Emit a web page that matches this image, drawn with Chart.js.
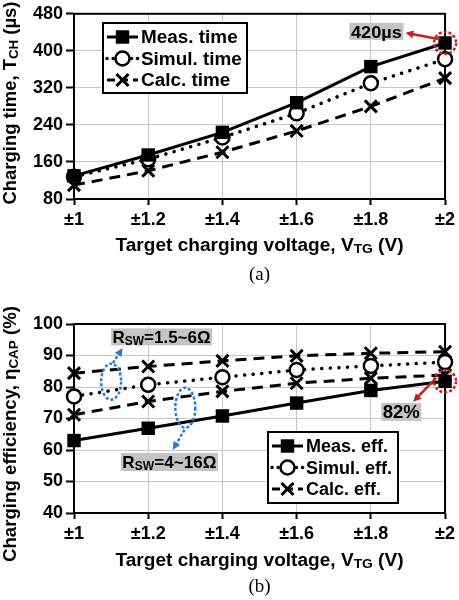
<!DOCTYPE html>
<html>
<head>
<meta charset="utf-8">
<script src="https://cdn.jsdelivr.net/npm/chart.js@4.4.1/dist/chart.umd.min.js"></script>
<style>
  body { margin: 0; background: #fff; }
  .wrap { position: absolute; left: 0; width: 459px; height: 300px; }
</style>
</head>
<body>
<div class="wrap" style="top:0"><canvas id="timeChart" width="459" height="300"></canvas></div>
<div class="wrap" style="top:300px"><canvas id="effChart" width="459" height="300"></canvas></div>
<script>
// x axis: target charging voltage
const voltages = [1, 1.2, 1.4, 1.6, 1.8, 2];
const voltLabels = ["±1", "±1.2", "±1.4", "±1.6", "±1.8", "±2"];

// (a) charging time in us
const timeTicks = [80, 160, 240, 320, 400, 480];
const measTime = [130, 175, 224, 288, 366, 417];
const simulTime = [128, 166, 213, 265, 330, 382];
const calcTime = [110, 141, 181, 227, 280, 341];

// (b) charging efficiency in %
const effTicks = [40, 50, 60, 70, 80, 90, 100];
const measEff = [63, 66.9, 70.8, 74.9, 78.9, 81.8];
const simulEff = [77, 80.7, 83.1, 85.4, 86.7, 87.9];
const calcEffLowR = [84.4, 86.5, 88.3, 89.9, 90.7, 91.2];   // Rsw = 1.5~6 ohm
const calcEffHighR = [71.2, 75.4, 78.6, 81.2, 82.8, 83.8];  // Rsw = 4~16 ohm

const FONT = '"Liberation Sans", Arial, sans-serif';
const RED = "#c8201e";
const BLUE = "#2b7bc4";
const BOXGREY = "#c4c4c4";

const toXY = (ys) => ys.map((y, i) => ({ x: voltages[i], y: y }));

// styles of the three kinds of series
const measStyle = {
  borderColor: "#000", borderWidth: 3,
  pointStyle: "rect", pointRadius: 9.5, pointBackgroundColor: "#000", pointBorderWidth: 0
};
const simulStyle = {
  borderColor: "#000", borderWidth: 3.5, borderDash: [0.1, 8.5], borderCapStyle: "round",
  pointStyle: "circle", pointRadius: 7, pointBackgroundColor: "#fff",
  pointBorderColor: "#000", pointBorderWidth: 2.5
};
const calcStyle = {
  borderColor: "#000", borderWidth: 3, borderDash: [11, 7],
  pointStyle: "crossRot", pointRadius: 8.5, pointBorderColor: "#000", pointBorderWidth: 3
};

const makeSet = (label, ys, style) =>
  Object.assign({ label: label, data: toXY(ys), tension: 0, clip: false }, style);

// bold text with subscripts, centered at x, vertically centered at y
function drawRich(ctx, parts, x, y, size, opt) {
  opt = opt || {};
  const subSize = Math.round(size * 0.7);
  ctx.save();
  let w = 0;
  parts.forEach((p) => {
    ctx.font = "bold " + (p[1] ? subSize : size) + "px " + FONT;
    w += ctx.measureText(p[0]).width;
  });
  const sx = opt.width ? opt.width / w : (opt.stretch || 1);
  ctx.translate(x, y);
  if (opt.rotate) ctx.rotate(opt.rotate);
  ctx.scale(sx, 1);
  ctx.fillStyle = "#000";
  ctx.textBaseline = "alphabetic";
  let cx = -w / 2;
  parts.forEach((p) => {
    ctx.font = "bold " + (p[1] ? subSize : size) + "px " + FONT;
    ctx.fillText(p[0], cx, size * 0.36 + (p[1] ? 1.5 : 0));
    cx += ctx.measureText(p[0]).width;
  });
  ctx.restore();
}

function greyLabel(ctx, parts, cx, cy, w, h, size) {
  ctx.fillStyle = BOXGREY;
  ctx.fillRect(cx - w / 2, cy - h / 2, w, h);
  drawRich(ctx, parts, cx, cy, size, { width: w - 3 });
}

function arrow(ctx, x1, y1, x2, y2, color, dash) {
  const ang = Math.atan2(y2 - y1, x2 - x1);
  ctx.save();
  ctx.strokeStyle = color;
  ctx.fillStyle = color;
  ctx.lineWidth = 2.5;
  ctx.setLineDash(dash || []);
  ctx.beginPath();
  ctx.moveTo(x1, y1);
  ctx.lineTo(x2 - 5 * Math.cos(ang), y2 - 5 * Math.sin(ang));
  ctx.stroke();
  ctx.setLineDash([]);
  ctx.beginPath();
  ctx.moveTo(x2, y2);
  ctx.lineTo(x2 - 9 * Math.cos(ang - 0.45), y2 - 9 * Math.sin(ang - 0.45));
  ctx.lineTo(x2 - 9 * Math.cos(ang + 0.45), y2 - 9 * Math.sin(ang + 0.45));
  ctx.closePath();
  ctx.fill();
  ctx.restore();
}

function dashedEllipse(ctx, x, y, rx, ry, color, dash) {
  ctx.save();
  ctx.strokeStyle = color;
  ctx.lineWidth = 2.5;
  ctx.setLineDash(dash);
  ctx.beginPath();
  ctx.ellipse(x, y, rx, ry, 0, 0, Math.PI * 2);
  ctx.stroke();
  ctx.restore();
}

// plugin: frame, titles, legend box and the annotations
function makeDecor(cfg) {
  return {
    id: "decor",
    beforeDatasetsDraw(chart) {
      const a = chart.chartArea, ctx = chart.ctx;
      ctx.save();
      ctx.strokeStyle = "#000";
      ctx.lineWidth = 2;
      ctx.strokeRect(a.left, a.top, a.right - a.left, a.bottom - a.top);
      ctx.restore();
    },
    afterDatasetsDraw(chart) {
      const ctx = chart.ctx;
      const xs = chart.scales.x, ys = chart.scales.y;
      const px = (v) => xs.getPixelForValue(v);
      const py = (v) => ys.getPixelForValue(v);

      // legend
      const L = cfg.legend;
      ctx.save();
      ctx.fillStyle = "#fff";
      ctx.fillRect(L.x, L.y, L.w, L.h);
      ctx.strokeStyle = "#000";
      ctx.lineWidth = 2;
      ctx.strokeRect(L.x, L.y, L.w, L.h);
      L.items.forEach((it, i) => {
        const ds = chart.data.datasets[it.ds];
        const ry = L.y + 14 + i * 21.5;
        ctx.save();
        ctx.strokeStyle = "#000";
        ctx.lineWidth = ds.borderWidth;
        ctx.lineCap = ds.borderCapStyle || "butt";
        ctx.setLineDash(it.dash || ds.borderDash || []);
        ctx.beginPath();
        ctx.moveTo(L.x + 4, ry);
        ctx.lineTo(L.x + 35, ry);
        ctx.stroke();
        ctx.setLineDash([]);
        ctx.fillStyle = ds.pointBackgroundColor || "#000";
        ctx.lineWidth = ds.pointBorderWidth;
        Chart.helpers.drawPoint(ctx, {
          pointStyle: ds.pointStyle, radius: ds.pointRadius, rotation: 0,
          borderWidth: ds.pointBorderWidth
        }, L.x + 19.5, ry);
        ctx.restore();
        ctx.save();
        ctx.font = "bold 18px " + FONT;
        const tw = ctx.measureText(it.text).width;
        ctx.restore();
        drawRich(ctx, [[it.text]], L.x + 38 + tw * L.stretch / 2, ry, 18, { stretch: L.stretch });
      });
      ctx.restore();

      cfg.annotate(ctx, px, py);
    },
    afterDraw(chart) {
      const ctx = chart.ctx;
      const a = chart.chartArea;
      const mid = (a.left + a.right) / 2;
      drawRich(ctx, [["Target charging voltage, V"], ["TG", 1], [" (V)"]], mid, cfg.xTitleY, 18, { width: 288 });
      drawRich(ctx, cfg.yTitle, 10, cfg.yTitleY, 18, { width: cfg.yTitleLen, rotate: -Math.PI / 2 });
      ctx.save();
      ctx.font = '19px "Liberation Serif", "Times New Roman", serif';
      ctx.fillStyle = "#000";
      ctx.textAlign = "center";
      ctx.textBaseline = "middle";
      ctx.fillText(cfg.caption, mid, cfg.captionY);
      ctx.restore();
    }
  };
}

function makeScales(yTicks, xHeight) {
  const tickFont = { family: FONT, size: 18, weight: "bold" };
  return {
    x: {
      type: "linear", min: voltages[0], max: voltages[voltages.length - 1],
      afterBuildTicks: (s) => { s.ticks = voltages.map((v) => ({ value: v })); },
      afterFit: (s) => { s.height = xHeight; },
      ticks: {
        color: "#000", font: tickFont, padding: 4, maxRotation: 0, autoSkip: false,
        callback: (v) => voltLabels[voltages.indexOf(v)]
      },
      grid: { color: "#c8c8c8", lineWidth: 1, tickColor: "#000", tickLength: 6, tickWidth: 2 },
      border: { color: "#000", width: 2 }
    },
    y: {
      type: "linear", min: yTicks[0], max: yTicks[yTicks.length - 1],
      afterBuildTicks: (s) => { s.ticks = yTicks.map((v) => ({ value: v })); },
      afterFit: (s) => { s.width = 74; },
      ticks: { color: "#000", font: tickFont, padding: 3 },
      grid: { color: "#c8c8c8", lineWidth: 1, tickColor: "#000", tickLength: 8, tickWidth: 2 },
      border: { color: "#000", width: 2 }
    }
  };
}

// (a) charging time
new Chart(document.getElementById("timeChart"), {
  type: "line",
  data: {
    datasets: [
      makeSet("Meas. time", measTime, measStyle),
      makeSet("Simul. time", simulTime, simulStyle),
      makeSet("Calc. time", calcTime, calcStyle)
    ]
  },
  options: {
    responsive: false, animation: false, devicePixelRatio: 1,
    layout: { padding: { left: 0, right: 12, top: 9, bottom: 0 } },
    scales: makeScales(timeTicks, 101),
    plugins: { legend: { display: false }, tooltip: { enabled: false } }
  },
  plugins: [makeDecor({
    xTitleY: 245, caption: "(a)", captionY: 275,
    yTitle: [["Charging time, T"], ["CH", 1], [" (µs)"]], yTitleY: 103, yTitleLen: 203,
    legend: {
      x: 103, y: 23, w: 144, h: 70, stretch: 1.05,
      items: [{ ds: 0, text: "Meas. time" }, { ds: 1, text: "Simul. time", dash: [0.1, 6] }, { ds: 2, text: "Calc. time", dash: [8, 5] }]
    },
    annotate(ctx, px, py) {
      const last = voltages.length - 1;
      dashedEllipse(ctx, px(voltages[last]), py(measTime[last]), 11, 11, RED, [3, 2]);
      arrow(ctx, px(1.986), py(425), px(1.893), py(439), RED);
      greyLabel(ctx, [["420µs"]], px(1.815), py(442), 54, 17, 17);
    }
  })]
});

// (b) charging efficiency
new Chart(document.getElementById("effChart"), {
  type: "line",
  data: {
    datasets: [
      makeSet("Meas. eff.", measEff, measStyle),
      makeSet("Simul. eff.", simulEff, simulStyle),
      makeSet("Calc. eff.", calcEffLowR, calcStyle),
      makeSet("Calc. eff.", calcEffHighR, calcStyle)
    ]
  },
  options: {
    responsive: false, animation: false, devicePixelRatio: 1,
    layout: { padding: { left: 0, right: 12, top: 24, bottom: 0 } },
    scales: makeScales(effTicks, 87),
    plugins: { legend: { display: false }, tooltip: { enabled: false } }
  },
  plugins: [makeDecor({
    xTitleY: 260, caption: "(b)", captionY: 287,
    yTitle: [["Charging efficiency, η"], ["CAP", 1], [" (%)"]], yTitleY: 134, yTitleLen: 256,
    legend: {
      x: 268, y: 132, w: 130, h: 71, stretch: 1.0,
      items: [{ ds: 0, text: "Meas. eff." }, { ds: 1, text: "Simul. eff.", dash: [0.1, 6] }, { ds: 2, text: "Calc. eff.", dash: [8, 5] }]
    },
    annotate(ctx, px, py) {
      const last = voltages.length - 1;
      dashedEllipse(ctx, px(voltages[last]), py(measEff[last]), 11, 11, RED, [3, 2]);
      arrow(ctx, px(1.976), py(82.9), px(1.914), py(75.3), RED);
      greyLabel(ctx, [["82%"]], px(1.882), py(72.1), 40, 18, 18);

      dashedEllipse(ctx, px(1.1), py(81.7), 10, 18, BLUE, [3, 2]);
      arrow(ctx, px(1.105), py(87.6), px(1.131), py(92.4), BLUE, [3, 2]);
      greyLabel(ctx, [["R"], ["SW", 1], ["=1.5~6Ω"]], px(1.236), py(95.9), 101, 17, 17);

      dashedEllipse(ctx, px(1.3), py(73.4), 10, 20, BLUE, [3, 2]);
      arrow(ctx, px(1.298), py(66.4), px(1.266), py(60), BLUE, [3, 2]);
      greyLabel(ctx, [["R"], ["SW", 1], ["=4~16Ω"]], px(1.257), py(56.2), 97, 18, 17);
    }
  })]
});
</script>
</body>
</html>
